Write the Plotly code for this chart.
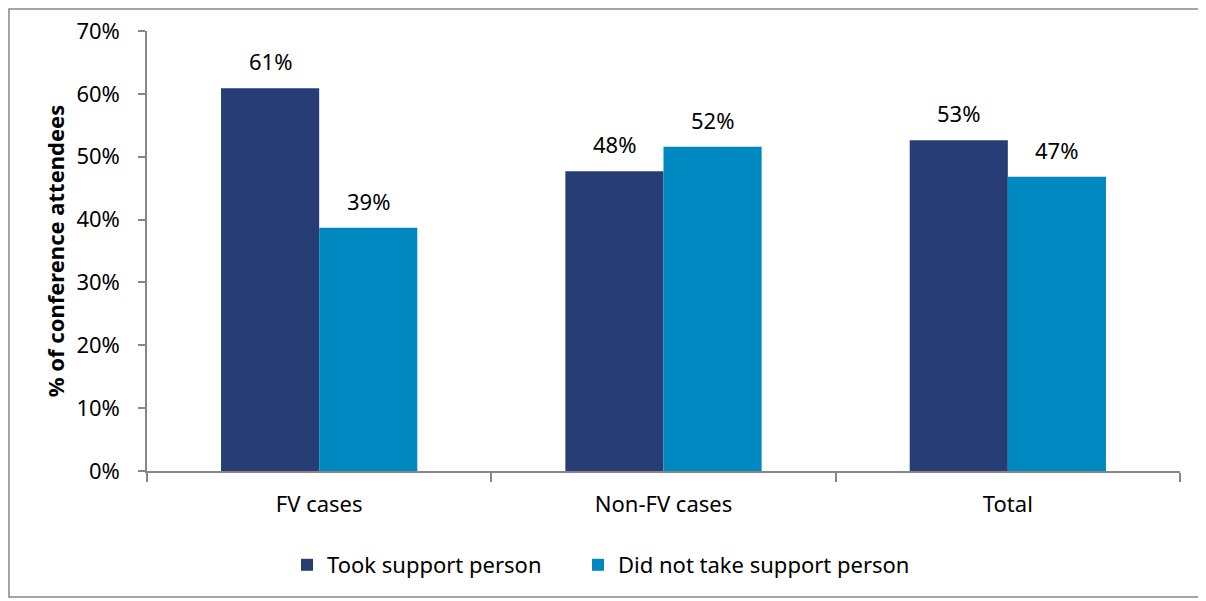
import plotly.graph_objects as go

categories = ["FV cases", "Non-FV cases", "Total"]
took_support = [60.9, 47.7, 52.6]
no_support = [38.7, 51.6, 46.8]
series_names = ["Took support person", "Did not take support person"]
y_ticks = [0, 10, 20, 30, 40, 50, 60, 70]
y_tick_labels = [f"{v}%" for v in y_ticks]

navy = "#263E75"
blue = "#0088C1"
axis_grey = "#868686"
font_family = "Noto Sans, Open Sans, sans-serif"
fsize = 22

# figure size (the page body has an 8px margin)
W, H = 1198, 593
ml, mr, mt, mb = 139, 26, 23, 130
pw, ph = W - ml - mr, H - mt - mb
bargap = 0.43
bar_px = pw / len(categories) * (1 - bargap) / 2

def px_to_paper_x(px):
    return (px - ml) / pw

def px_to_paper_y(py):
    return (H - mb - py) / ph

fig = go.Figure()
series = [(series_names[0], took_support, navy, -1, "legend"),
          (series_names[1], no_support, blue, 1, "legend2")]
annotations = []
for name, vals, col, side, leg in series:
    fig.add_trace(go.Bar(
        x=categories, y=vals, name=name, legend=leg,
        marker=dict(color=col, line=dict(width=0)),
    ))
    for c, v in zip(categories, vals):
        annotations.append(dict(
            x=c, y=v, xref="x", yref="y", text=f"{round(v):d}%",
            showarrow=False, xanchor="center", yanchor="bottom",
            xshift=side * bar_px / 2, yshift=10,
            font=dict(size=fsize, color="#000000", family=font_family),
        ))

legend_common = dict(orientation="h", xref="container", yref="container",
                     xanchor="left", y=1 - 557 / H, yanchor="middle",
                     font=dict(size=fsize), itemwidth=30,
                     bgcolor="rgba(0,0,0,0)")

fig.update_layout(
    width=W, height=H,
    margin=dict(l=ml, r=mr, t=mt, b=mb, autoexpand=False),
    barmode="group", bargap=bargap, bargroupgap=0,
    plot_bgcolor="white", paper_bgcolor="white",
    font=dict(family=font_family, size=fsize, color="#000000"),
    showlegend=True,
    legend=dict(x=279 / W, **legend_common),
    legend2=dict(x=570 / W, **legend_common),
    xaxis=dict(showline=True, linecolor=axis_grey, linewidth=1.5,
               ticks="outside", tickson="boundaries", ticklen=9,
               tickcolor=axis_grey, tickwidth=1.5,
               ticklabelstandoff=13, showgrid=False, automargin=False,
               tickfont=dict(size=fsize)),
    yaxis=dict(range=[0, 70], tickvals=y_ticks, ticktext=y_tick_labels,
               showline=True, linecolor=axis_grey, linewidth=1.5,
               ticks="outside", ticklen=7, tickcolor=axis_grey, tickwidth=1.5,
               ticklabelstandoff=14, showgrid=False, zeroline=False,
               automargin=False,
               tickfont=dict(size=fsize),
               title=dict(text="<b>% of conference attendees</b>",
                          font=dict(size=22), standoff=6)),
    annotations=annotations,
    shapes=[dict(type="rect", xref="paper", yref="paper",
                 x0=px_to_paper_x(1), x1=px_to_paper_x(1193),
                 y0=px_to_paper_y(589), y1=px_to_paper_y(1),
                 line=dict(color=axis_grey, width=1.5), fillcolor="rgba(0,0,0,0)",
                 layer="below")],
)

fig.write_html("out.html")
